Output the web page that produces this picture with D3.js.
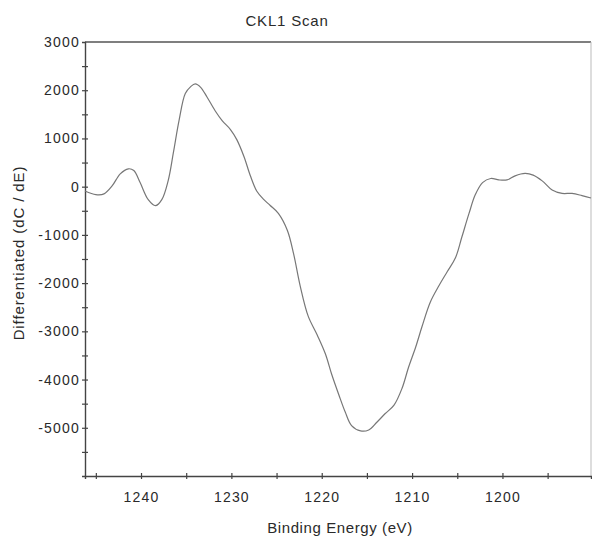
<!DOCTYPE html>
<html>
<head>
<meta charset="utf-8">
<script src="https://cdn.jsdelivr.net/npm/d3@7"></script>
<style>
  body { margin: 0; background: #fff; }
  svg text { font-family: Arial, "Liberation Sans", sans-serif; fill: #2a2a2a; }
</style>
</head>
<body>
<svg id="chart" width="592" height="538"></svg>
<script>
// CKL1 scan
const energy = [1246.2, 1245.0, 1244.1, 1243.2, 1242.3, 1241.4, 1240.8, 1240.1, 1239.2, 1238.4,
  1237.7, 1237.0, 1236.4, 1235.8, 1235.1, 1234.5, 1234.0, 1233.4, 1232.7, 1231.8,
  1231.0, 1230.1, 1229.4, 1228.6, 1227.9, 1227.2, 1226.4, 1225.7, 1224.8, 1223.8,
  1223.1, 1222.4, 1221.5, 1220.5, 1219.6, 1218.9, 1218.1, 1217.4, 1216.7, 1215.7,
  1214.8, 1213.9, 1213.0, 1212.0, 1211.1, 1210.4, 1209.6, 1208.9, 1208.0, 1207.0,
  1206.1, 1205.2, 1204.5, 1203.7, 1203.0, 1202.2, 1201.3, 1200.4, 1199.5, 1198.6,
  1197.5, 1196.6, 1195.6, 1194.5, 1193.4, 1192.3, 1191.2, 1190.2]
const signal = [-90, -165, -150, 15, 265, 370, 335, 85, -270, -395,
  -270, 120, 725, 1365, 1930, 2075, 2130, 2060, 1860, 1575,
  1365, 1185, 975, 620, 225, -90, -270, -390, -555, -910,
  -1405, -2045, -2685, -3075, -3465, -3890, -4320, -4675, -4955, -5065,
  -5045, -4885, -4710, -4530, -4175, -3750, -3325, -2900, -2400, -2045,
  -1760, -1475, -1050, -555, -165, 85, 170, 140, 140, 225,
  275, 240, 120, -70, -140, -140, -185, -235]

const xMajor = [1240, 1230, 1220, 1210, 1200]
const xMinor = [1245, 1240, 1235, 1230, 1225, 1220, 1215, 1210, 1205, 1200, 1195]
const yMajor = [3000, 2000, 1000, 0, -1000, -2000, -3000, -4000, -5000]
const yMinor = d3.range(-5500, 3000, 500)

const svg = d3.select('#chart')
const plot = { left: 85, right: 591, top: 42, bottom: 476 }

let x = d3.scaleLinear().domain([1246.2, 1190.2]).range([plot.left, plot.right])
let y = d3.scaleLinear().domain([-6000, 3000]).range([plot.bottom, plot.top])

// plain hyphen for negatives, like the original
const fmt = d => String(d)

// frame
svg.append('line').attr('x1', plot.left).attr('x2', plot.right).attr('y1', plot.top).attr('y2', plot.top)
  .attr('stroke', '#555').attr('stroke-width', 1.3)
svg.append('line').attr('x1', plot.right).attr('x2', plot.right).attr('y1', plot.top).attr('y2', plot.bottom)
  .attr('stroke', '#bbb').attr('stroke-width', 1)

// axes drawn by d3, ticks crossing the line
let yAxis = svg.append('g').attr('transform', `translate(${plot.left},0)`)
  .call(d3.axisLeft(y).tickValues(yMinor).tickSize(3).tickFormat(''))
yAxis.selectAll('line').attr('x2', 3).attr('x1', -3)
let yLab = svg.append('g').attr('transform', `translate(${plot.left},0)`)
  .call(d3.axisLeft(y).tickValues(yMajor).tickSize(0).tickPadding(5).tickFormat(fmt))
yLab.select('.domain').remove()

let xAxis = svg.append('g').attr('transform', `translate(0,${plot.bottom})`)
  .call(d3.axisBottom(x).tickValues(xMinor).tickSize(3).tickFormat(''))
xAxis.selectAll('line').attr('y1', -3).attr('y2', 3)
let xLab = svg.append('g').attr('transform', `translate(0,${plot.bottom})`)
  .call(d3.axisBottom(x).tickValues(xMajor).tickSize(0).tickPadding(16).tickFormat(fmt))
xLab.select('.domain').remove()

svg.selectAll('.domain').attr('stroke', '#444').attr('stroke-width', 1.4)
svg.selectAll('.tick line').attr('stroke', '#444').attr('stroke-width', 1.2)
svg.selectAll('.tick text').attr('font-size', 14).attr('letter-spacing', 1.2)
  .attr('fill', '#2a2a2a').attr('font-family', 'Arial, "Liberation Sans", sans-serif')

// curve
let line = d3.line()
  .x((d, i) => x(energy[i]))
  .y(d => y(d))
  .curve(d3.curveCatmullRom)
svg.append('path').datum(signal)
  .attr('d', line)
  .attr('fill', 'none')
  .attr('stroke', '#777')
  .attr('stroke-width', 1.2)

// titles
svg.append('text').attr('x', 287).attr('y', 26).attr('text-anchor', 'middle')
  .attr('font-size', 15).attr('letter-spacing', 0.8).text('CKL1 Scan')
svg.append('text').attr('x', 340).attr('y', 533).attr('text-anchor', 'middle')
  .attr('font-size', 15).attr('letter-spacing', 0.6).text('Binding Energy (eV)')
svg.append('text').attr('transform', 'translate(24,253) rotate(-90)').attr('text-anchor', 'middle')
  .attr('font-size', 15).attr('letter-spacing', 0.9).text('Differentiated (dC / dE)')
</script>
</body>
</html>
